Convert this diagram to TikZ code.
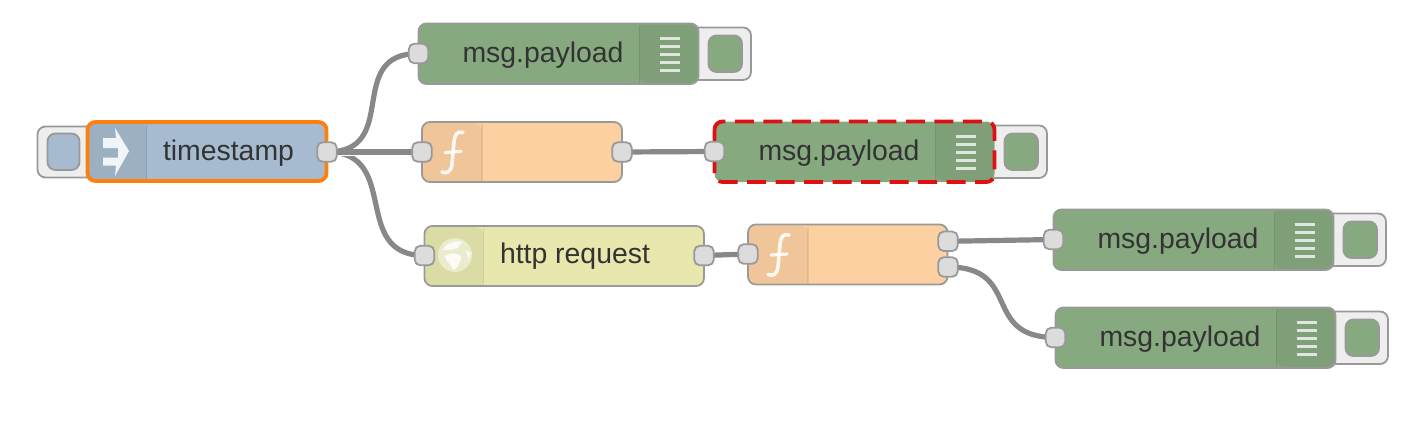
\documentclass[tikz,border=0pt]{standalone}
\usepackage{fontspec}
\setmainfont{Liberation Sans}
\usetikzlibrary{backgrounds}
\definecolor{edgegrey}{HTML}{999999}
\definecolor{wiregrey}{HTML}{888888}
\definecolor{portfill}{HTML}{DCDCDC}
\definecolor{btnfill}{HTML}{EEEEEE}
\definecolor{labelink}{HTML}{333333}
\definecolor{debugfill}{HTML}{87A980}
\definecolor{injectfill}{HTML}{A6BBCF}
\definecolor{funcfill}{HTML}{FDD0A2}
\definecolor{httpfill}{HTML}{E7E7AE}
\definecolor{selorange}{HTML}{FF7F0E}
\definecolor{selred}{HTML}{DD1111}
\tikzset{
  x=1pt,y=-1pt,
  nodebox/.style={draw=none,rectangle,rounded corners=8pt,inner sep=0pt,outer sep=0pt,anchor=north west},
  port/.style={draw=edgegrey,line width=1.8pt,fill=portfill,rectangle,rounded corners=5.5pt,inner sep=0pt,outer sep=0pt,minimum width=19.5pt,minimum height=19.5pt},
  btnbg/.style={draw=edgegrey,line width=1.8pt,fill=btnfill,rounded corners=8pt},
  btnin/.style={draw=edgegrey,line width=1.8pt,rounded corners=8pt},
  outline/.style={draw=edgegrey,line width=1.8pt,rounded corners=8pt},
  redsel/.style={selred,line width=3.8pt,rounded corners=8pt,dash pattern=on 19pt off 9.5pt,dash phase=4pt},
  lbl/.style={font=\fontsize{28.4}{32}\selectfont,text=labelink,anchor=base west,inner sep=0pt,outer sep=0pt},
  wire/.style={draw=wiregrey,line width=5.2pt,preaction={draw=white,line width=7pt}},
  icon/.style={white,opacity=.88},
}
% debug node: name, x, y, outline style
\newcommand{\debugnode}[4]{%
  \begin{scope}[shift={(#2,#3)}]
    \draw[btnbg] (230,4) rectangle (332.5,56.5);
    \node[nodebox,fill=debugfill,minimum width=280pt,minimum height=60.5pt] (#1) at (0,0) {};
    \fill[black,opacity=.06,rounded corners=8pt] (221,1) -- (279,1) -- (279,59.5) -- (221,59.5) [sharp corners] -- cycle;
    \draw[black,opacity=.1,line width=1.2pt] (221,2) -- (221,59);
    \draw[btnin,fill=debugfill] (290,12) rectangle (323.5,48.5);
    \foreach \yy in {15,23,31,39,47} \draw[white,opacity=.75,line width=3.2pt] (241,\yy) -- (261,\yy);
    \draw[#4] (#1.north west) rectangle (#1.south east);
    \node[lbl] (#1t) at (44,38.5) {msg.payload};
    \node[port] (#1i) at (0,30) {};
  \end{scope}}
\newcommand{\funcicon}{%
  \draw[icon,line width=3.6pt,line cap=round] (41,10.5) .. controls (35,9) and (33,12) .. (32,20) -- (30,42) .. controls (29,50) and (25,52) .. (20,50);
  \draw[icon,line width=3.2pt,line cap=round] (23,30.5) -- (39,29.5);}
\begin{document}
\begin{tikzpicture}
\useasboundingbox (0,0) rectangle (1422,426);

% --- timestamp inject
\draw[btnbg] (37.5,126.5) rectangle (110,177.5);
\draw[btnin,fill=injectfill] (47.5,133.5) rectangle (79.5,170);
\node[nodebox,fill=injectfill,minimum width=239pt,minimum height=59pt] (ts) at (87.5,122) {};
\fill[black,opacity=.06,rounded corners=8pt] (89,123) -- (146.5,123) [sharp corners] -- (146.5,180) [rounded corners=8pt] -- (89,180) -- cycle;
\draw[black,opacity=.1,line width=1.2pt] (146.7,123.5) -- (146.7,180);
\draw[selorange,line width=3.8pt,rounded corners=8pt] (ts.south west) rectangle (ts.north east);
\fill[icon] (103,138) -- (116,138) -- (115,128) -- (129,151) -- (115,176) -- (116,165.5) -- (103,165.5) -- (103,157.5) -- (118,157.5) -- (118,148) -- (103,148) -- cycle;
\node[lbl] (tst) at (163,160) {timestamp};
\node[port] (tsout) at (327,152) {};

% --- debug nodes
\debugnode{dbga}{418.5}{23.5}{outline}
\debugnode{dbgb}{714.5}{121.5}{redsel}
\debugnode{dbgc}{1053.5}{209.5}{outline}
\debugnode{dbgd}{1055.5}{307.5}{outline}

% --- function 1
\begin{scope}[shift={(422,122)}]
  \node[nodebox,fill=funcfill,minimum width=200pt,minimum height=60pt] (fa) at (0,0) {};
  \fill[black,opacity=.05,rounded corners=8pt] (1,1) -- (60,1) [sharp corners] -- (60,59) [rounded corners=8pt] -- (1,59) -- cycle;
  \draw[black,opacity=.07,line width=1.2pt] (60,2) -- (60,59);
  \draw[outline] (fa.south west) rectangle (fa.north east);
  \funcicon
  \node[port] (fai) at (0,30) {};
  \node[port] (fao) at (200,30) {};
\end{scope}

% --- http request
\begin{scope}[shift={(424.5,226)}]
  \node[nodebox,fill=httpfill,minimum width=279.5pt,minimum height=60pt] (ht) at (0,0) {};
  \fill[black,opacity=.05,rounded corners=8pt] (1,1) -- (59,1) [sharp corners] -- (59,59) [rounded corners=8pt] -- (1,59) -- cycle;
  \draw[black,opacity=.07,line width=1.2pt] (59,2) -- (59,59);
  \draw[outline] (ht.south west) rectangle (ht.north east);
  \fill[white,opacity=.45] (30.5,29) circle (17);
  \fill[white,opacity=.8] (18,24) .. controls (22,17) and (30,14) .. (38,16) -- (33,22) -- (26,24) -- cycle;
  \fill[white,opacity=.85] (20,30) .. controls (26,26) and (34,27) .. (37,31) .. controls (36,36) and (33,42) .. (29,44) .. controls (27,40) and (22,35) .. (20,30) -- cycle;
  \fill[white,opacity=.75] (41,24) -- (47,27) -- (44,33) -- cycle;
  \node[lbl] (htt) at (75.5,37) {http request};
  \node[port] (hti) at (0,29.5) {};
  \node[port] (hto) at (279.5,29.5) {};
\end{scope}

% --- function 2
\begin{scope}[shift={(748,224.5)}]
  \node[nodebox,fill=funcfill,minimum width=199.5pt,minimum height=60pt] (fb) at (0,0) {};
  \fill[black,opacity=.05,rounded corners=8pt] (1,1) -- (60,1) [sharp corners] -- (60,59) [rounded corners=8pt] -- (1,59) -- cycle;
  \draw[black,opacity=.07,line width=1.2pt] (60,2) -- (60,59);
  \draw[outline] (fb.south west) rectangle (fb.north east);
  \funcicon
  \node[port] (fbi) at (0,29.5) {};
  \node[port] (fbo) at (200,16.8) {};
  \node[port] (fbp) at (200,42.5) {};
\end{scope}

% --- wires, underneath everything
\begin{scope}[on background layer]
  \draw[wire] (tsout.center) .. controls +(75,0) and +(-75,0) .. (dbgai.center);
  \draw[wire] (tsout.center) .. controls +(75,0) and +(-75,0) .. (hti.center);
  \draw[wire] (tsout.center) -- (fai.center);
  \draw[wire] (fao.center) -- (dbgbi.center);
  \draw[wire] (hto.center) -- (fbi.center);
  \draw[wire] (fbo.center) -- (dbgci.center);
  \draw[wire] (fbp.center) .. controls +(75,0) and +(-75,0) .. (dbgdi.center);
\end{scope}
\end{tikzpicture}
\end{document}
